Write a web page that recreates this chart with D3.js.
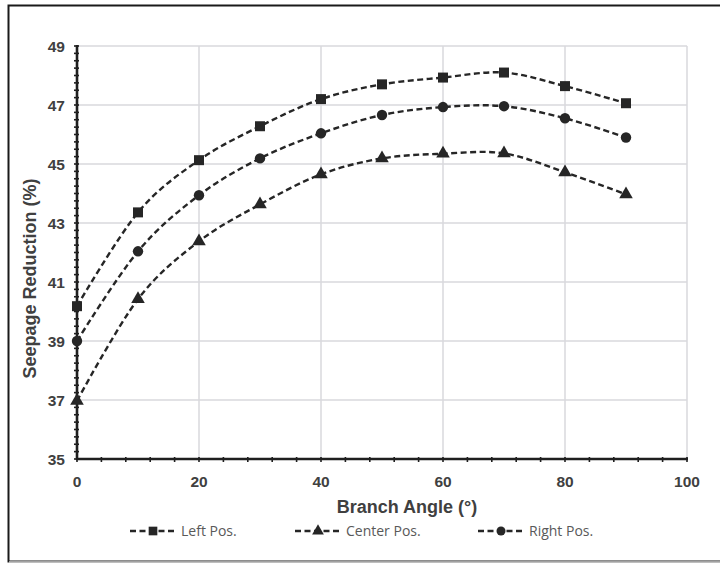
<!DOCTYPE html>
<html>
<head>
<meta charset="utf-8">
<script src="https://cdn.jsdelivr.net/npm/d3@7"></script>
<style>
  html, body { margin: 0; padding: 0; background: #fff; }
  svg { display: block; }
</style>
</head>
<body>
<svg id="chart" width="720" height="564"></svg>
<script>
// Branch angle (degrees)
const angles = [0, 10, 20, 30, 40, 50, 60, 70, 80, 90];
// Seepage reduction (%) per branch position
const leftPos   = [40.18, 43.36, 45.13, 46.28, 47.2, 47.7, 47.93, 48.1, 47.64, 47.06];
const centerPos = [36.97, 40.42, 42.38, 43.63, 44.65, 45.19, 45.35, 45.36, 44.72, 43.97];
const rightPos  = [39.0, 42.04, 43.94, 45.19, 46.04, 46.66, 46.93, 46.96, 46.55, 45.9];
const seriesNames = ["Left Pos.", "Center Pos.", "Right Pos."];
const xTicks = [0, 20, 40, 60, 80, 100];
const yTicks = [35, 37, 39, 41, 43, 45, 47, 49];

const svg = d3.select("#chart");
const plot = { left: 77, right: 687, top: 46, bottom: 459 };

// Outer frame
svg.append("rect").attr("x", 8.5).attr("y", 5.5).attr("width", 730).attr("height", 556)
  .attr("fill", "none").attr("stroke", "#1a1a1a").attr("stroke-width", 2);
svg.append("line").attr("x1", 9).attr("x2", 720).attr("y1", 562).attr("y2", 562)
  .attr("stroke", "#cfcfcf").attr("stroke-width", 1.5);

const x = d3.scaleLinear().domain([0, 100]).range([plot.left, plot.right]);
const y = d3.scaleLinear().domain([35, 49]).range([plot.bottom, plot.top]);

// Gridlines
const grid = svg.append("g").attr("stroke", "#d9d9dc").attr("stroke-width", 1.5);
yTicks.forEach(v => grid.append("line")
  .attr("x1", plot.left).attr("x2", plot.right).attr("y1", y(v)).attr("y2", y(v)));
xTicks.forEach(v => grid.append("line")
  .attr("x1", x(v)).attr("x2", x(v)).attr("y1", plot.top).attr("y2", plot.bottom));

// Axes with minor ticks crossing the axis line
const axisColor = "#1f1f1f";
const yMinor = d3.range(35, 49.001, 0.25);
const xMinor = d3.range(0, 100.001, 4);
const ax = svg.append("g").attr("stroke", axisColor);
yMinor.forEach(v => ax.append("line")
  .attr("x1", plot.left - 3).attr("x2", plot.left + 2).attr("y1", y(v)).attr("y2", y(v))
  .attr("stroke-width", 1.6));
xMinor.forEach(v => ax.append("line")
  .attr("x1", x(v)).attr("x2", x(v)).attr("y1", plot.bottom - 2).attr("y2", plot.bottom + 3)
  .attr("stroke-width", 1.6));
ax.append("line").attr("x1", plot.left).attr("x2", plot.left)
  .attr("y1", plot.top - 1).attr("y2", plot.bottom + 1).attr("stroke-width", 2.6);
ax.append("line").attr("x1", plot.left - 1).attr("x2", plot.right + 1)
  .attr("y1", plot.bottom).attr("y2", plot.bottom).attr("stroke-width", 2.6);

// Tick labels
const tickFont = "'Liberation Sans', Arial, sans-serif";
svg.append("g").selectAll("text").data(yTicks).join("text")
  .attr("x", plot.left - 12).attr("y", d => y(d)).attr("dy", "0.36em")
  .attr("text-anchor", "end").attr("font-family", tickFont)
  .attr("font-size", 15.5).attr("font-weight", "bold").attr("fill", "#404040")
  .text(d => d);
svg.append("g").selectAll("text").data(xTicks).join("text")
  .attr("x", d => x(d)).attr("y", plot.bottom + 22).attr("dy", "0.36em")
  .attr("text-anchor", "middle").attr("font-family", tickFont)
  .attr("font-size", 15.5).attr("font-weight", "bold").attr("fill", "#404040")
  .text(d => d);

// Axis titles
svg.append("text").attr("x", 407).attr("y", 507).attr("dy", "0.36em")
  .attr("text-anchor", "middle").attr("font-family", tickFont)
  .attr("font-size", 18).attr("font-weight", "bold").attr("fill", "#404040")
  .text("Branch Angle (°)");
svg.append("text")
  .attr("transform", `translate(30,${(plot.top + plot.bottom) / 2 + 26}) rotate(-90)`)
  .attr("dy", "0.36em").attr("text-anchor", "middle").attr("font-family", tickFont)
  .attr("font-size", 18).attr("font-weight", "bold").attr("fill", "#404040")
  .text("Seepage Reduction (%)");

// Series
const series = [
  { name: seriesNames[0], values: leftPos, marker: d3.symbolSquare, size: 100 },
  { name: seriesNames[1], values: centerPos, marker: d3.symbolTriangle, size: 80 },
  { name: seriesNames[2], values: rightPos, marker: d3.symbolCircle, size: 85 }
];
const lineColor = "#262626";
const line = d3.line().x(d => x(d[0])).y(d => y(d[1])).curve(d3.curveCatmullRom.alpha(0));

series.forEach(s => {
  const pts = angles.map((a, i) => [a, s.values[i]]);
  svg.append("path").datum(pts).attr("d", line)
    .attr("fill", "none").attr("stroke", lineColor).attr("stroke-width", 2.4)
    .attr("stroke-dasharray", "6,3.5");
  svg.append("g").selectAll("path").data(pts).join("path")
    .attr("transform", d => `translate(${x(d[0])},${y(d[1])})`)
    .attr("d", d3.symbol().type(s.marker).size(s.size))
    .attr("fill", lineColor);
});

// Legend
const legendY = 531;
const legendPos = [130, 295, 478];
series.forEach((s, i) => {
  const g = svg.append("g").attr("transform", `translate(${legendPos[i]},${legendY})`);
  g.append("line").attr("x1", 0).attr("x2", 47).attr("y1", 0).attr("y2", 0)
    .attr("stroke", lineColor).attr("stroke-width", 2.4).attr("stroke-dasharray", "6,3.5");
  g.append("path").attr("transform", "translate(23,0)")
    .attr("d", d3.symbol().type(s.marker).size(s.size * 0.75)).attr("fill", lineColor);
  g.append("text").attr("x", 51).attr("y", 0).attr("dy", "0.36em")
    .attr("font-family", "'Open Sans', sans-serif").attr("font-size", 14)
    .attr("fill", "#595959").text(s.name);
});
</script>
</body>
</html>
